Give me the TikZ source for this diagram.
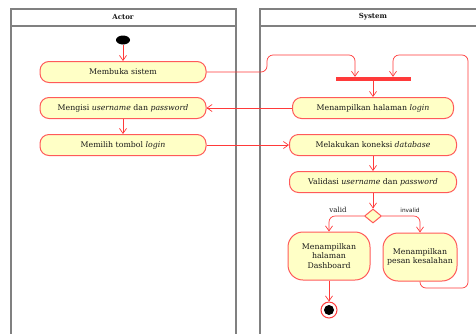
\documentclass[tikz,border=0pt]{standalone}
\usepackage{fontspec}
\setmainfont{DejaVu Serif}
\setsansfont{DejaVu Sans}
\usetikzlibrary{calc, positioning, arrows.meta, shapes.geometric}
\definecolor{color_fill}{HTML}{FFFFC6}
\definecolor{color_edge}{HTML}{FF5A5A}
\definecolor{color_flow}{HTML}{FF3A3A}
\definecolor{color_lane}{HTML}{808080}
\definecolor{color_text}{HTML}{1A1A1A}
\tikzset{
  lane_box/.style={draw=color_lane, line width=1.3pt},
  lane_title/.style={font=\bfseries\fontsize{7}{8}\selectfont, text=color_text},
  action_box/.style={draw=color_edge, fill=color_fill, line width=1pt, rounded corners=9pt, minimum height=21pt, inner sep=1pt, font=\fontsize{7.8}{9.5}\selectfont, text=color_text, align=center},
  action_tall/.style={action_box, rounded corners=15pt, minimum height=48pt},
  start_dot/.style={ellipse, fill=black, minimum width=14pt, minimum height=9pt, inner sep=0pt},
  fork_bar/.style={rectangle, fill=color_flow, minimum width=75pt, minimum height=4pt, inner sep=0pt},
  decision_box/.style={diamond, draw=color_edge, fill=color_fill, line width=1pt, minimum width=17pt, minimum height=14pt, inner sep=0pt},
  end_ring/.style={circle, draw=color_flow, fill=white, line width=1pt, minimum size=16pt, inner sep=0pt},
  end_dot/.style={circle, fill=black, minimum size=10pt, inner sep=0pt},
  guard_label/.style={font=\fontsize{7}{8}\selectfont, text=color_text},
  flow_arrow/.style={-{Straight Barb[length=5pt, width=7pt]}, draw=color_flow, line width=0.7pt},
}

\begin{document}
\begin{tikzpicture}[x=1pt, y=-1pt]
    \useasboundingbox (0,0) rectangle (476,333);
    % Swimlanes
    \draw[lane_box] (11,340) -- (11,9) -- (236,9) -- (236,340);
    \draw[lane_box] (11,26) -- (236,26);
    \draw[lane_box] (260,340) -- (260,9) -- (480,9);
    \draw[lane_box] (260,26) -- (480,26);
    \node[lane_title] (lane_actor) at (123,17) {Actor};
    \node[lane_title] (lane_system) at (373,17) {System};
    % Actor side
    \node[start_dot] (start) at (123,40) {};
    \node[action_box, minimum width=166pt] (buka) at (123,72) {Membuka sistem};
    \node[action_box, minimum width=166pt] (isi) at (123,108) {Mengisi \textit{username} dan \textit{password}};
    \node[action_box, minimum width=166pt] (pilih) at (123,145) {Memilih tombol \textit{login}};
    % System side
    \node[fork_bar] (fork) at (373,79) {};
    \node[action_box, minimum width=161pt] (halaman) at (373,108) {Menampilkan halaman \textit{login}};
    \node[action_box, minimum width=167pt] (koneksi) at (373,145) {Melakukan koneksi \textit{database}};
    \node[action_box, minimum width=167pt] (validasi) at (373,182) {Validasi \textit{username} dan \textit{password}};
    \node[decision_box] (cek) at (373,216) {};
    \node[action_tall, minimum width=82pt] (dashboard) at (329,256) {Menampilkan\\halaman\\Dashboard};
    \node[action_tall, minimum width=74pt, inner sep=0pt] (pesan) at (420,257) {Menampilkan\\pesan kesalahan};
    \node[end_ring] (finish) at (329,310) {};
    \node[end_dot] (finish_dot) at (finish) {};
    \node[guard_label] (lbl_valid) at (338,210) {valid};
    \node[guard_label, font=\sffamily\fontsize{5.8}{6}\selectfont] (lbl_invalid) at (410,210) {invalid};
    \coordinate (fork_in_a) at ($(fork.north)+(-18,0)$);
    \coordinate (fork_in_b) at ($(fork.north)+(20,0)$);
    % Flows
    \draw[flow_arrow] (start) -- (buka);
    \draw[flow_arrow, rounded corners=6pt] (buka.east) -- (267,72) -- (267,55) -- (fork_in_a |- 0,55) -- (fork_in_a);
    \draw[flow_arrow] (fork) -- (halaman);
    \draw[flow_arrow] (halaman) -- (isi);
    \draw[flow_arrow] (isi) -- (pilih);
    \draw[flow_arrow] (pilih) -- (koneksi);
    \draw[flow_arrow] (koneksi) -- (validasi);
    \draw[flow_arrow] (validasi) -- (cek);
    \draw[flow_arrow, rounded corners=6pt] (cek.west) -| (dashboard.north);
    \draw[flow_arrow, rounded corners=6pt] (cek.east) -| (pesan.north);
    \draw[flow_arrow] (dashboard) -- (finish);
    \draw[flow_arrow, rounded corners=6pt] (pesan.south) -- (pesan.south |- 0,288) -- (468,288) -- (468,55) -- (fork_in_b |- 0,55) -- (fork_in_b);
\end{tikzpicture}
\end{document}
